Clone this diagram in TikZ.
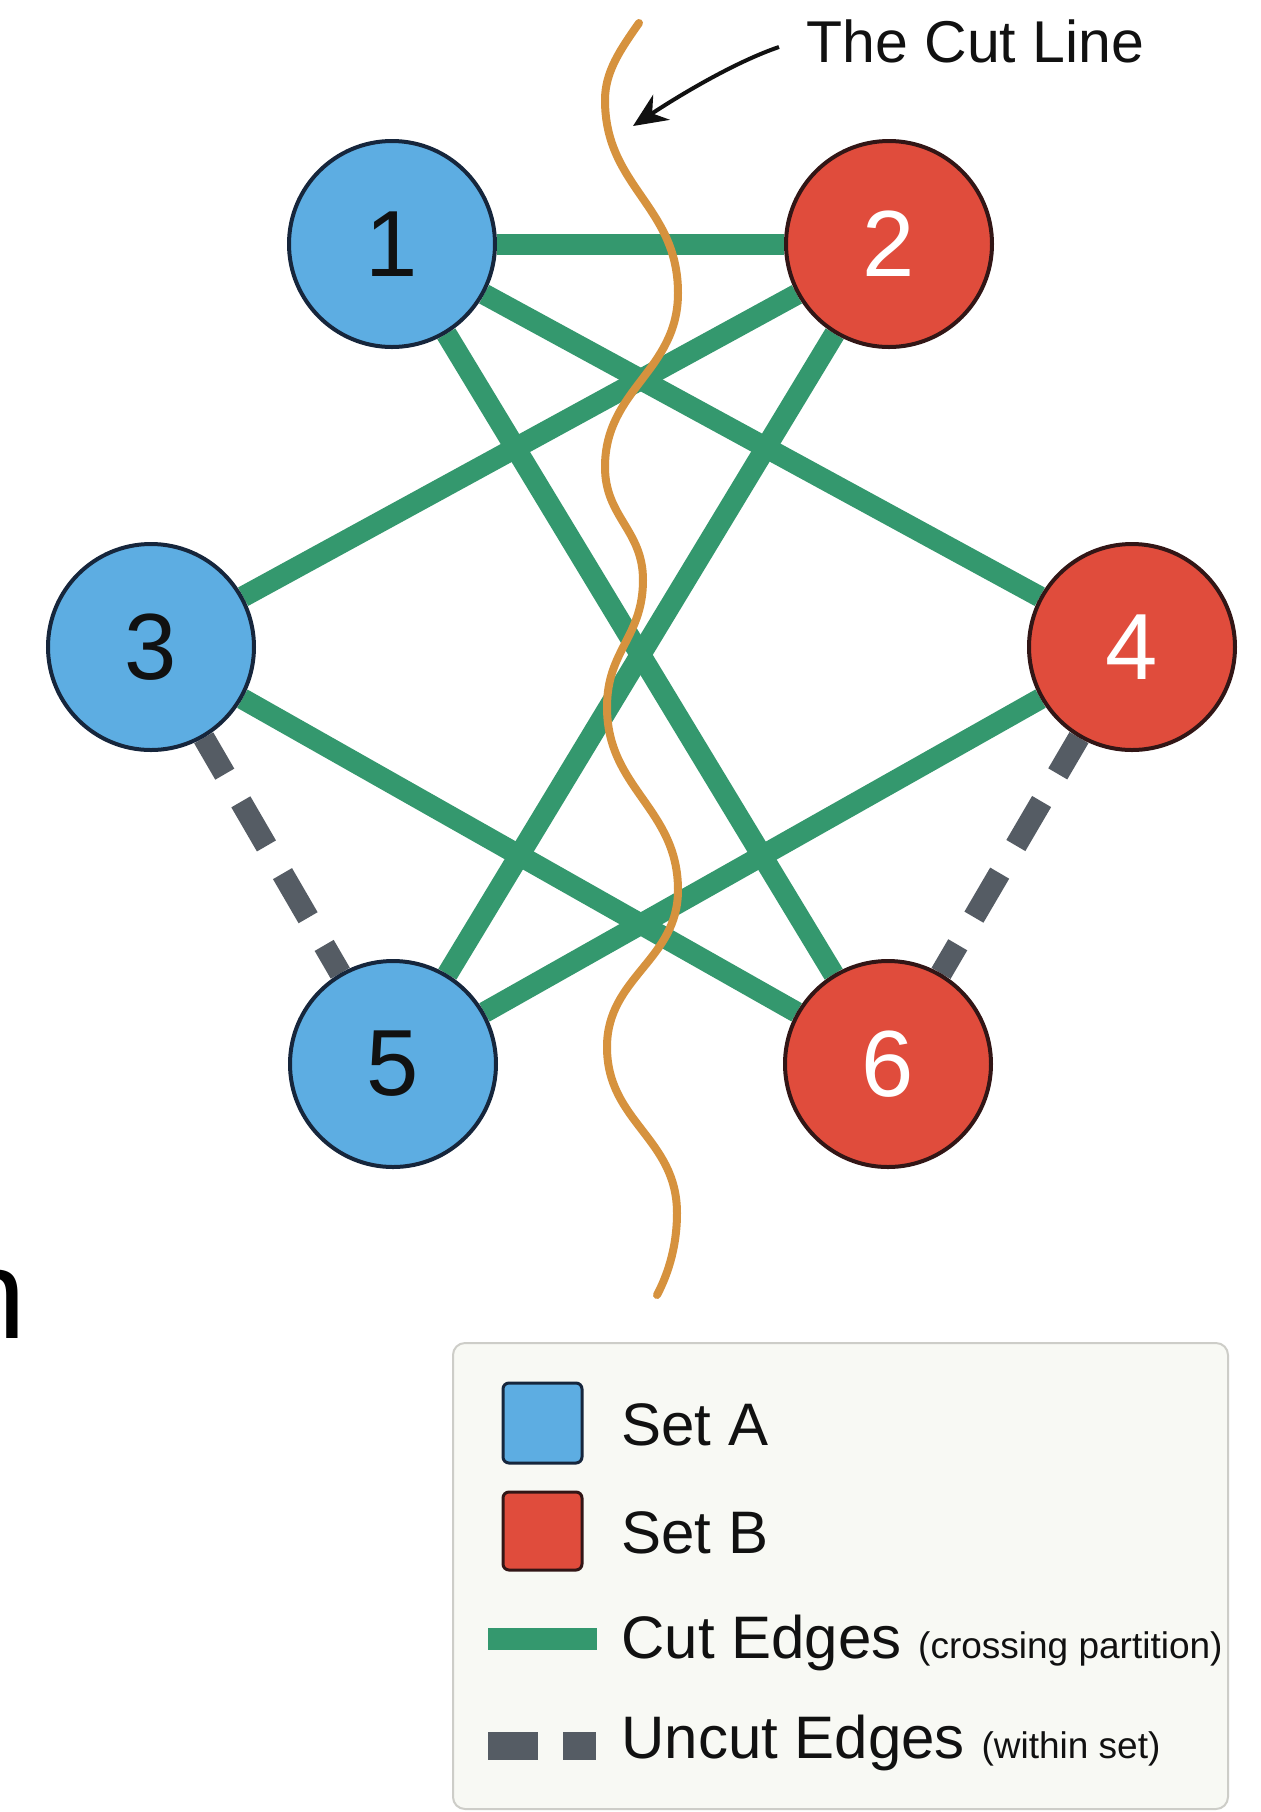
\documentclass[tikz,border=0pt]{standalone}
\usepackage{fontspec}
\setmainfont{Liberation Sans}
\usetikzlibrary{arrows.meta}
\pgfdeclarelayer{bg}
\pgfdeclarelayer{edges}
\pgfsetlayers{bg,edges,main}
\newcommand{\smalltxtfont}{\fontsize{18.5}{18.5}\selectfont}
\definecolor{setA}{RGB}{93,173,226}
\definecolor{setAline}{RGB}{22,38,60}
\definecolor{setB}{RGB}{224,76,60}
\definecolor{setBline}{RGB}{50,22,22}
\definecolor{cutgreen}{RGB}{52,152,110}
\definecolor{uncutgray}{RGB}{85,92,100}
\definecolor{cutline}{RGB}{214,146,62}
\definecolor{legendbg}{RGB}{248,249,244}
\definecolor{legendframe}{RGB}{205,205,200}
\definecolor{ink}{RGB}{17,17,17}
\begin{document}
\begin{tikzpicture}[x=0.5pt,y=-0.5pt,
 vtx/.style={circle,minimum size=103pt,inner sep=0pt,line width=2pt,font=\fontsize{47}{47}\selectfont},
 vA/.style={vtx,fill=setA,draw=setAline,text=ink},
 vB/.style={vtx,fill=setB,draw=setBline,text=white},
 cutedge/.style={draw=cutgreen,line width=10.5pt},
 uncutedge/.style={draw=uncutgray,line width=11pt,dash pattern=on 25.5pt off 16pt,dash phase=4.5pt},
 lbl/.style={anchor=base west,inner sep=0pt,text=ink,font=\fontsize{30}{30}\selectfont}
]
\clip (0,0) rectangle (1261,1812);
\begin{pgfonlayer}{bg}
\fill[white] (0,0) rectangle (1261,1812);
\end{pgfonlayer}

% stray letter at left edge
\node[anchor=base west,inner sep=0pt,text=black,font=\fontsize{63.6}{64}\selectfont] (stray) at (-45,1338) {n};

% vertices
\node[vA] (n1) at (392,244) {1};
\node[vB] (n2) at (889,244) {2};
\node[vA] (n3) at (151,647) {3};
\node[vB] (n4) at (1132,647) {4};
\node[vA] (n5) at (393,1064) {5};
\node[vB] (n6) at (888,1064) {6};

\begin{pgfonlayer}{edges}
\path[cutedge] (n1) -- (n4);
\path[cutedge] (n1) -- (n6);
\path[cutedge] (n2) -- (n3);
\path[cutedge] (n2) -- (n5);
\path[cutedge] (n3) -- (n6);
\path[cutedge] (n4) -- (n5);
\path[cutedge] (n1) -- (n2);
\path[uncutedge] (n3) -- (n5);
\path[uncutedge] (n4) -- (n6);
% cut line
\draw[cutline,line width=4pt,line cap=round]
 (639,23) .. controls (620,50) and (605,72) .. (605,100)
 .. controls (605,187) and (678,206) .. (678,293)
 .. controls (678,371) and (605,389) .. (605,467)
 .. controls (605,517) and (643,530) .. (643,580)
 .. controls (643,637) and (607,650) .. (607,707)
 .. controls (607,789) and (678,808) .. (678,890)
 .. controls (678,960) and (607,977) .. (607,1047)
 .. controls (607,1122) and (677,1138) .. (677,1213)
 .. controls (677,1250) and (666,1278) .. (657,1295);
\end{pgfonlayer}

% cut line label
\node[anchor=base west,inner sep=0pt,text=ink,font=\fontsize{29.5}{30}\selectfont] (cutlbl) at (806,62) {The Cut Line};
\coordinate (arrstart) at (779,47);
\coordinate (arrtip) at (633,126);
\draw[ink,line width=2pt,-{Stealth[length=17pt,width=15pt]}] (arrstart) .. controls (735,62) and (680,95) .. (arrtip);

% legend
\draw[fill=legendbg,draw=legendframe,line width=1pt,rounded corners=6pt] (453,1343) rectangle (1228,1809);
\draw[fill=setA,draw=setAline,line width=1.5pt,rounded corners=3pt] (503,1383) rectangle (582,1463);
\draw[fill=setB,draw=setBline,line width=1.5pt,rounded corners=3pt] (503,1492) rectangle (582,1570);
\fill[cutgreen] (488,1628) rectangle (597,1650);
\fill[uncutgray] (488,1732) rectangle (538,1760);
\fill[uncutgray] (563,1732) rectangle (596,1760);
\node[lbl] (lgA) at (621,1445) {Set A};
\node[lbl] (lgB) at (621,1553) {Set B};
\node[lbl] (lgC) at (621,1658) {Cut Edges {\smalltxtfont(crossing partition)}};
\node[lbl] (lgU) at (621,1758) {Uncut Edges {\smalltxtfont(within set)}};
\end{tikzpicture}
\end{document}
